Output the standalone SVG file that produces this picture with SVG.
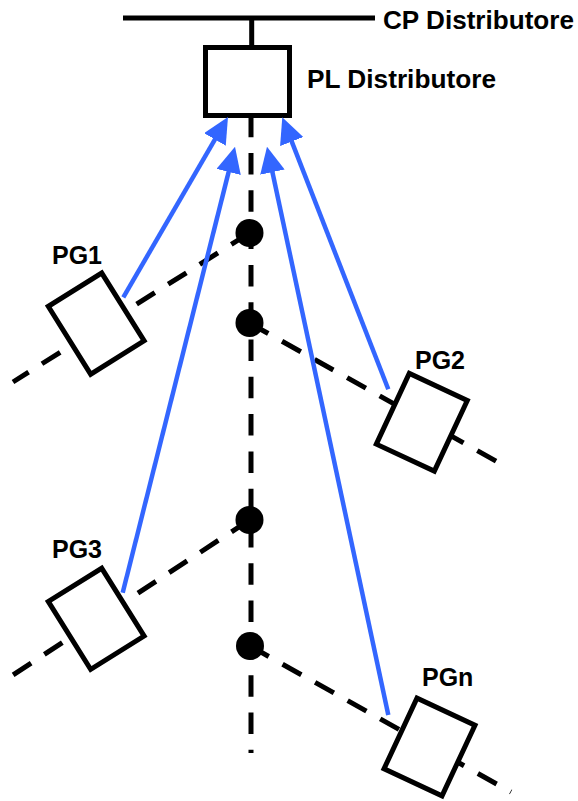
<svg xmlns="http://www.w3.org/2000/svg" width="578" height="801" viewBox="0 0 578 801">
<style>
.lbl{font-family:"Liberation Sans",Arial,Helvetica,sans-serif;font-weight:bold;font-size:25px;fill:#000}
.solid{stroke:#000;stroke-width:5;fill:none}
.dash{stroke:#000;stroke-width:5;fill:none;stroke-dasharray:21.5 15.8}
.box{stroke:#000;stroke-width:5;fill:#fff}
.dot{fill:#000}
.arr{stroke:#3366ff;stroke-width:4.5;fill:none;marker-end:url(#ah)}
</style>
<defs>
<marker id="ah" viewBox="0 0 26 25" markerWidth="26" markerHeight="25" refX="16" refY="12.5" orient="auto" markerUnits="userSpaceOnUse">
<path d="M0,0 L26,12.5 L0,25 z" fill="#3366ff"/>
</marker>
</defs>
<rect width="578" height="801" fill="#fff"/>
<g id="connectors">
<line class="dash" x1="251" y1="115.7" x2="251" y2="753"/>
<line class="dash" x1="249.5" y1="233" x2="13" y2="382"/>
<line class="dash" x1="249.5" y1="323" x2="503" y2="465"/>
<line class="dash" x1="249.5" y1="520" x2="13" y2="675"/>
<line class="dash" x1="250" y1="646" x2="511" y2="792"/>
</g>
<g id="cp-distributore">
<line class="solid" x1="123" y1="18" x2="375" y2="18"/>
<line class="solid" x1="251.7" y1="18" x2="251.7" y2="47"/>
<text class="lbl" x="383" y="29" textLength="191" lengthAdjust="spacingAndGlyphs">CP Distributore</text>
</g>
<g id="pl-distributore">
<rect class="box" x="205.5" y="47.5" width="84" height="68"/>
<text class="lbl" x="307" y="88" textLength="189" lengthAdjust="spacingAndGlyphs">PL Distributore</text>
</g>
<g id="junctions">
<circle class="dot" cx="249.5" cy="233" r="14"/>
<circle class="dot" cx="249.5" cy="323" r="14"/>
<circle class="dot" cx="249.5" cy="520" r="14"/>
<circle class="dot" cx="250" cy="646" r="14"/>
</g>
<g id="pg1">
<rect class="box" x="-31.5" y="-40" width="63" height="80" transform="translate(96.2,323.6) rotate(-32)"/>
<text class="lbl" x="52" y="264">PG1</text>
</g>
<g id="pg2">
<rect class="box" x="-32" y="-39" width="64" height="78" transform="translate(421.8,422.3) rotate(25)"/>
<text class="lbl" x="415" y="369">PG2</text>
</g>
<g id="pg3">
<rect class="box" x="-31.5" y="-40" width="63" height="80" transform="translate(96.2,618.8) rotate(-32)"/>
<text class="lbl" x="52" y="558">PG3</text>
</g>
<g id="pgn">
<rect class="box" x="-32" y="-39" width="64" height="78" transform="translate(429.5,747) rotate(25)"/>
<text class="lbl" x="422" y="686">PGn</text>
</g>
<g id="arrows">
<line class="arr" x1="123.3" y1="297.3" x2="222.98" y2="125.65"/>
<line class="arr" x1="122.7" y1="592.7" x2="232.56" y2="156.4"/>
<line class="arr" x1="388.3" y1="389.3" x2="285.93" y2="126.62"/>
<line class="arr" x1="388.3" y1="715" x2="269.09" y2="156.48"/>
</g>
</svg>
